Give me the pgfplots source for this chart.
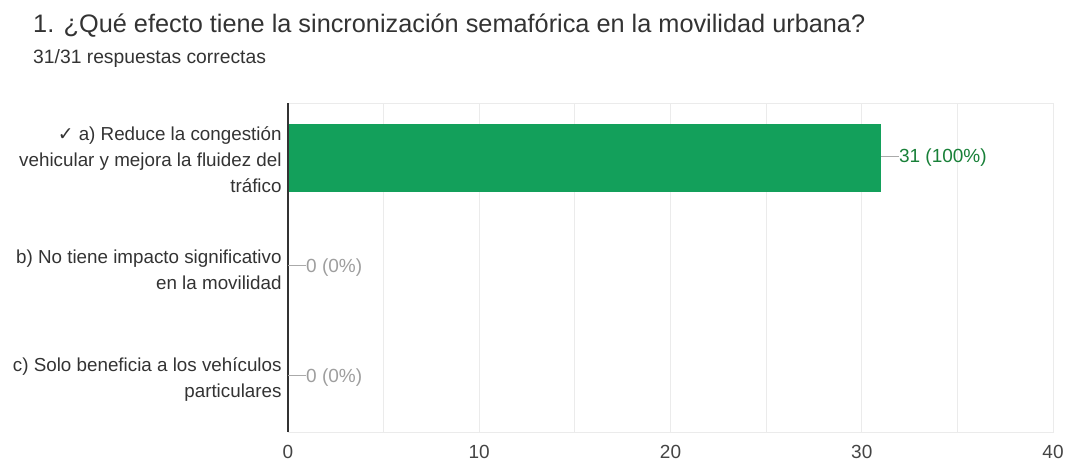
\documentclass[border=0pt]{standalone}
\usepackage{pgfplots}
\pgfplotsset{compat=1.18}
\usepackage{fontspec}
\setmainfont{Liberation Sans}
\newfontfamily\symfont{DejaVu Sans}
\definecolor{barg}{HTML}{13A05B}
\definecolor{labg}{HTML}{188038}
\definecolor{txt}{HTML}{333333}
\definecolor{tick}{HTML}{444444}
\definecolor{gridc}{HTML}{EBEBEB}
\definecolor{zerog}{HTML}{9E9E9E}
\definecolor{conn}{HTML}{AAAAAA}
\begin{document}
\begin{tikzpicture}[x=1pt,y=1pt]
\useasboundingbox (0,0) rectangle (1065,461);
\node[anchor=base west, font=\fontsize{25.3}{30}\selectfont, text=txt, inner sep=0] at (33,428) {1. ¿Qué efecto tiene la sincronización semafórica en la movilidad urbana?};
\node[anchor=base west, font=\fontsize{19.3}{22}\selectfont, text=txt, inner sep=0] at (33,397) {31/31 respuestas correctas};
\begin{axis}[
  at={(288pt,29pt)}, anchor=south west,
  scale only axis, width=765pt, height=329pt,
  xbar, bar width=68pt, bar shift=0pt,
  xmin=0, xmax=40, ymin=-0.5, ymax=2.5, y dir=reverse,
  xtick={0,10,20,30,40}, minor xtick={5,15,25,35},
  ytick={0,1,2},
  yticklabels={{{\symfont ✓} a) Reduce la congestión\\vehicular y mejora la fluidez del\\tráfico},
               {b) No tiene impacto significativo\\en la movilidad},
               {c) Solo beneficia a los vehículos\\particulares}},
  yticklabel style={align=right, font=\fontsize{18.8}{26}\selectfont, text=txt, inner sep=0pt, xshift=-2pt, yshift=-2pt},
  xticklabel style={font=\fontsize{19}{22}\selectfont, text=tick, yshift=-10pt},
  /pgf/number format/assume math mode=true,
  tick style={draw=none},
  xmajorgrids, xminorgrids,
  major grid style={gridc, line width=1pt},
  minor grid style={gridc, line width=1pt},
  axis line style={gridc, line width=1pt},
  clip=false,
]
\addplot[fill=barg, draw=none,
  nodes near coords={\textcolor{conn}{\rule[6pt]{18pt}{1pt}}\textcolor{labg}{31 (100\%)}},
  every node near coord/.style={anchor=west, inner sep=0pt, font=\fontsize{19}{22}\selectfont}]
  coordinates {(31,0)};
\addplot[fill=none, draw=none,
  nodes near coords={\textcolor{conn}{\rule[6pt]{18pt}{1pt}}\textcolor{zerog}{0 (0\%)}},
  every node near coord/.style={anchor=west, inner sep=0pt, font=\fontsize{19}{22}\selectfont}]
  coordinates {(0,1) (0,2)};
\draw[txt, line width=1.2pt] (rel axis cs:0,0) -- (rel axis cs:0,1);
\end{axis}
\end{tikzpicture}
\end{document}
